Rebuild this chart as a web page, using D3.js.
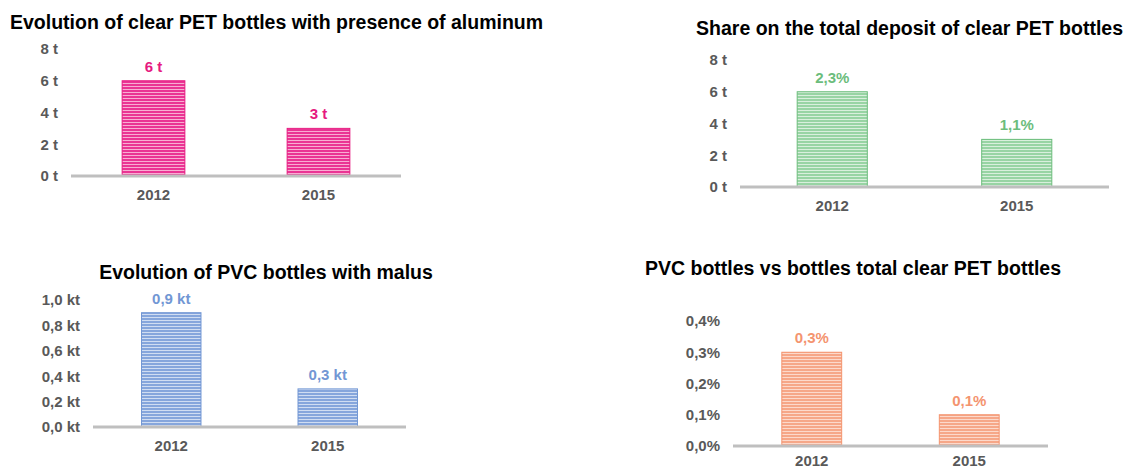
<!DOCTYPE html>
<html lang="en">
<head>
    <meta charset="UTF-8">
    <title>Clear PET / PVC bottles</title>
    <script src="https://cdn.jsdelivr.net/npm/d3@7"></script>
    <style>
        body {
            margin: 0;
            background: #fff;
            font-family: 'Liberation Sans', Arial, sans-serif;
        }
        .title {
            font-size: 19.5px;
            font-weight: bold;
            fill: #000;
        }
        .tick text {
            font-size: 15px;
            font-weight: bold;
            fill: #595959;
        }
        .value {
            font-size: 15px;
            font-weight: bold;
            text-anchor: middle;
        }
    </style>
</head>
<body>
<svg id="chart" width="1125" height="470"></svg>
<script>
    // data
    const years = ['2012', '2015'];

    const aluValues = [6, 3];
    const aluLabels = ['6 t', '3 t'];
    const aluTicks = [0, 2, 4, 6, 8];

    const shareValues = [6, 3];
    const shareLabels = ['2,3%', '1,1%'];
    const shareTicks = [0, 2, 4, 6, 8];

    const pvcValues = [0.9, 0.3];
    const pvcLabels = ['0,9 kt', '0,3 kt'];
    const pvcTicks = [0, 0.2, 0.4, 0.6, 0.8, 1.0];

    const ratioValues = [0.3, 0.1];
    const ratioLabels = ['0,3%', '0,1%'];
    const ratioTicks = [0, 0.1, 0.2, 0.3, 0.4];

    const frLocale = d3.formatLocale({decimal: ',', thousands: ' ', grouping: [3], currency: ['', '€']});

    const svg = d3.select('#chart');
    const defs = svg.append('defs');

    // striped fill like the original bars
    function stripes(id, dark, light) {
        const p = defs.append('pattern')
            .attr('id', id)
            .attr('patternUnits', 'userSpaceOnUse')
            .attr('width', 10)
            .attr('height', 3);
        p.append('rect').attr('width', 10).attr('height', 3).attr('fill', light);
        p.append('rect').attr('width', 10).attr('height', 2).attr('fill', dark);
    }
    stripes('pink', '#ea3594', '#f8add2');
    stripes('green', '#98d4a4', '#d9efdd');
    stripes('blue', '#86a6dc', '#d0ddf2');
    stripes('orange', '#f6a788', '#fcd9cb');

    function drawChart(o) {
        const g = svg.append('g');

        const x = d3.scaleBand()
            .domain(years)
            .range([o.x0, o.x1])
            .paddingInner(0.62)
            .paddingOuter(0.31);

        const y = d3.scaleLinear()
            .domain([0, d3.max(o.ticks)])
            .range([o.y0, o.yTop]);

        g.append('text')
            .attr('class', 'title')
            .attr('x', o.titleX)
            .attr('y', o.titleY)
            .attr('text-anchor', o.titleAnchor || 'start')
            .text(o.title);

        const yAxis = g.append('g')
            .attr('transform', `translate(${o.x0 - 13},0)`)
            .call(d3.axisLeft(y).tickValues(o.ticks).tickSize(0).tickPadding(0).tickFormat(o.fmt));
        yAxis.select('.domain').remove();

        const xAxis = g.append('g')
            .attr('transform', `translate(0,${o.y0})`)
            .call(d3.axisBottom(x).tickSize(0).tickPadding(o.xPad || 13));
        xAxis.select('.domain').remove();

        g.selectAll('.bar')
            .data(o.values)
            .join('rect')
            .attr('class', 'bar')
            .attr('x', (d, i) => x(years[i]))
            .attr('width', x.bandwidth())
            .attr('y', d => y(d))
            .attr('height', d => y(0) - y(d))
            .attr('fill', `url(#${o.pattern})`)
            .attr('stroke', o.color)
            .attr('stroke-width', 1);

        g.selectAll('.value')
            .data(o.values)
            .join('text')
            .attr('class', 'value')
            .attr('x', (d, i) => x(years[i]) + x.bandwidth() / 2)
            .attr('y', d => y(d) - 9)
            .attr('fill', o.color)
            .text((d, i) => o.labels[i]);

        g.append('line')
            .attr('x1', o.x0)
            .attr('x2', o.x1)
            .attr('y1', y(0))
            .attr('y2', y(0))
            .attr('stroke', '#bfbfbf')
            .attr('stroke-width', 3);
    }

    drawChart({
        title: 'Evolution of clear PET bottles with presence of aluminum',
        titleX: 10, titleY: 29,
        values: aluValues, labels: aluLabels, ticks: aluTicks,
        fmt: d => d + ' t',
        x0: 71, x1: 401, y0: 176, yTop: 49,
        pattern: 'pink', color: '#e6197f'
    });

    drawChart({
        title: 'Share on the total deposit of clear PET bottles',
        titleX: 1123, titleY: 35, titleAnchor: 'end',
        values: shareValues, labels: shareLabels, ticks: shareTicks,
        fmt: d => d + ' t',
        x0: 740, x1: 1109, y0: 187, yTop: 60,
        pattern: 'green', color: '#6cbd7c'
    });

    drawChart({
        title: 'Evolution of PVC bottles with malus',
        titleX: 266, titleY: 279, titleAnchor: 'middle',
        values: pvcValues, labels: pvcLabels, ticks: pvcTicks,
        fmt: d => frLocale.format('.1f')(d) + ' kt',
        x0: 93, x1: 406, y0: 427, yTop: 300,
        pattern: 'blue', color: '#7297d4'
    });

    drawChart({
        title: 'PVC bottles vs bottles total clear PET bottles',
        titleX: 853, titleY: 275, titleAnchor: 'middle',
        values: ratioValues, labels: ratioLabels, ticks: ratioTicks,
        fmt: d => frLocale.format('.1f')(d) + '%',
        x0: 733, x1: 1048, y0: 446, yTop: 321,
        xPad: 9,
        pattern: 'orange', color: '#f4946f'
    });
</script>
</body>
</html>
